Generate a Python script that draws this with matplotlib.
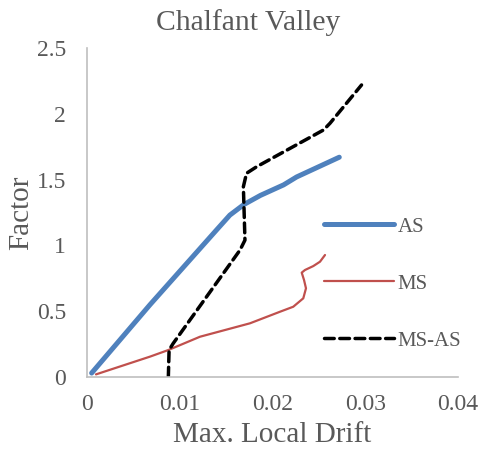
import numpy as np
import matplotlib.pyplot as plt

# AS curve
as_x = [0.0005, 0.0068, 0.0140, 0.0154, 0.0169, 0.0187, 0.0212, 0.0226, 0.0272]
as_y = [0.03, 0.55, 1.12, 1.23, 1.31, 1.38, 1.46, 1.52, 1.67]

# MS curve
ms_x = [0.00097, 0.0068, 0.00877, 0.01218, 0.01757, 0.02081, 0.02224, 0.02332,
        0.02361, 0.0234, 0.02315, 0.0235, 0.0244, 0.02512, 0.02566]
ms_y = [0.02, 0.155, 0.205, 0.306, 0.408, 0.496, 0.534, 0.598,
        0.674, 0.737, 0.793, 0.813, 0.843, 0.876, 0.927]

# MS-AS curve
msas_x = [0.00877, 0.00885, 0.0093, 0.0165, 0.01703, 0.01686, 0.0172, 0.0183,
          0.0255, 0.0262, 0.0296]
msas_y = [0.0, 0.205, 0.256, 0.965, 1.04, 1.446, 1.548, 1.598,
          1.877, 1.928, 2.219]

xticks = [0, 0.01, 0.02, 0.03, 0.04]
xtick_labels = ['0', '0.01', '0.02', '0.03', '0.04']
yticks = [0, 0.5, 1, 1.5, 2, 2.5]
ytick_labels = ['0', '0.5', '1', '1.5', '2', '2.5']

plt.rcParams['font.family'] = ['Liberation Serif', 'DejaVu Serif']
grey = '#595959'

fig = plt.figure(figsize=(4.82, 4.61), dpi=100)
ax = fig.add_axes([0.1805, 0.1822, 0.7697, 0.7137])

ax.plot(as_x, as_y, color='#4f81bd', lw=3.6, solid_capstyle='round',
        solid_joinstyle='round', label='AS')
ax.plot(ms_x, ms_y, color='#c0504d', lw=1.6, solid_capstyle='round',
        solid_joinstyle='round', label='MS')
ax.plot(msas_x, msas_y, color='black', lw=2.5, dashes=(2.8, 1.6),
        dash_capstyle='round', label='MS-AS')

ax.set_xlim(0, 0.04)
ax.set_ylim(0, 2.5)
ax.set_xticks(xticks)
ax.set_xticklabels(xtick_labels)
ax.set_yticks(yticks)
ax.set_yticklabels(ytick_labels)
ax.tick_params(length=0, labelsize=17, colors=grey)
ax.tick_params(axis='x', pad=12)
ax.tick_params(axis='y', pad=15)

for s in ['top', 'right']:
    ax.spines[s].set_visible(False)
for s in ['left', 'bottom']:
    ax.spines[s].set_color('#bfbfbf')
    ax.spines[s].set_linewidth(1.2)

ax.set_xlabel('Max. Local Drift', fontsize=21, color=grey, labelpad=5)
ax.set_ylabel('Factor', fontsize=21, color=grey, labelpad=2)
fig.text(0.515, 0.935, 'Chalfant Valley', fontsize=21.3, color=grey,
         ha='center', va='baseline')

leg = ax.legend(loc='center left', bbox_to_anchor=(0.587, 0.283), frameon=False,
                handlelength=3.36, handletextpad=0.2, labelspacing=1.8,
                fontsize=15)
for t in leg.get_texts():
    t.set_color(grey)

fig.savefig('out.png', dpi=100)
